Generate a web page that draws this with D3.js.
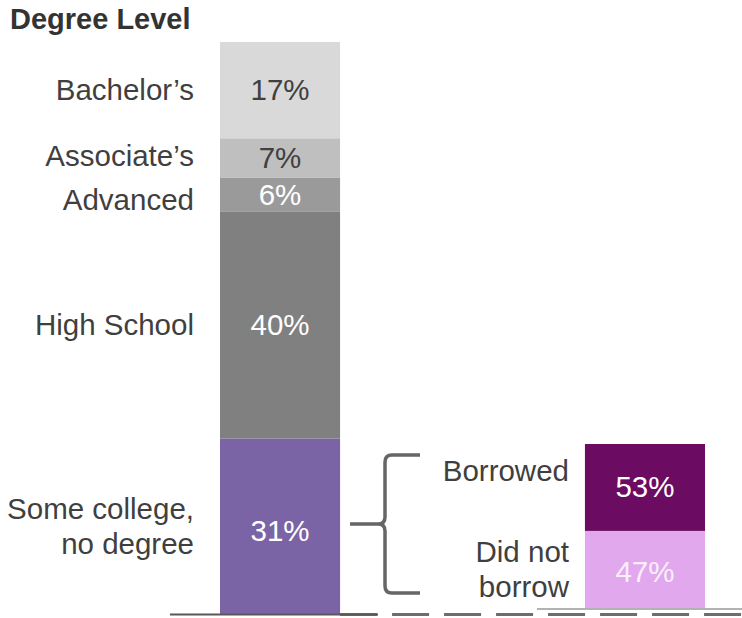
<!DOCTYPE html>
<html>
<head>
<meta charset="utf-8">
<script src="https://cdn.jsdelivr.net/npm/d3@7"></script>
<style>
  body { margin: 0; background: #fff; }
  svg { display: block; font-family: "Liberation Sans", Arial, sans-serif; }
</style>
</head>
<body>
<svg id="chart"></svg>
<script>
// degree level shares, stacked from the bottom up
const degreeLevels = ["Some college,\nno degree", "High School", "Advanced", "Associate’s", "Bachelor’s"];
const degreeShares = [31, 40, 6, 7, 17];
const degreeColors = ["#7b64a6", "#808080", "#9a9a9a", "#bfbfbf", "#d9d9d9"];

// split of the "some college" group
const borrowGroups = ["Did not\nborrow", "Borrowed"];
const borrowShares = [47, 53];
const borrowColors = ["#e1a8ee", "#6b0b62"];

const width = 742, height = 618;
const fontSize = 29.5, lineH = 35;

const svg = d3.select("#chart").attr("width", width).attr("height", height);

// x positions for the two bars
const x = d3.scaleBand().domain(["degree", "borrow"]).range([220, 705]).paddingInner(0.671);
const yMain = d3.scaleLinear().domain([0, d3.sum(degreeShares)]).range([614, 42]);
const ySub = d3.scaleLinear().domain([0, d3.sum(borrowShares)]).range([608, 444]);

function stackOf(values) {
  const ends = d3.cumsum(values);
  return values.map((v, i) => ({ v, i, y0: ends[i] - v, y1: ends[i] }));
}

// small nudges so labels don't collide
const labelNudge = { "Associate’s": -2, "Advanced": 5, "Borrowed": -16 };
const valueNudge = { "Some college,\nno degree": 5, "Borrowed": 0, "Did not\nborrow": 3 };

function drawBar(key, names, values, colors, y, valueFill, labelRight) {
  const segs = stackOf(values);
  const g = svg.append("g");

  g.selectAll("rect")
    .data(segs)
    .join("rect")
    .attr("x", x(key))
    .attr("width", x.bandwidth())
    .attr("y", d => y(d.y1))
    .attr("height", d => y(d.y0) - y(d.y1))
    .attr("fill", d => colors[d.i]);

  // percentages inside
  g.selectAll("text.val")
    .data(segs)
    .join("text")
    .attr("class", "val")
    .attr("x", x(key) + x.bandwidth() / 2)
    .attr("y", d => (y(d.y0) + y(d.y1)) / 2 + 10 + (valueNudge[names[d.i]] || 0))
    .attr("text-anchor", "middle")
    .attr("font-size", fontSize)
    .attr("fill", d => valueFill[d.i])
    .text(d => d.v + "%");

  // category labels to the left
  g.selectAll("text.lab")
    .data(segs)
    .join("text")
    .attr("class", "lab")
    .attr("text-anchor", "end")
    .attr("font-size", fontSize)
    .attr("fill", "#3f3f3f")
    .each(function(d) {
      const lines = names[d.i].split("\n");
      const mid = (y(d.y0) + y(d.y1)) / 2 + (labelNudge[names[d.i]] || 0);
      const first = mid + 10 - (lines.length - 1) * lineH / 2;
      d3.select(this).selectAll("tspan")
        .data(lines)
        .join("tspan")
        .attr("x", labelRight)
        .attr("y", (_, j) => first + j * lineH)
        .text(t => t);
    });
}

drawBar("degree", degreeLevels, degreeShares, degreeColors, yMain,
  ["#fff", "#fff", "#fff", "#404040", "#404040"], 194);
drawBar("borrow", borrowGroups, borrowShares, borrowColors, ySub,
  ["#fbeefd", "#fff"], 569);

// title
svg.append("text")
  .attr("x", 10)
  .attr("y", 29)
  .attr("font-size", 29)
  .attr("font-weight", "bold")
  .attr("fill", "#333")
  .text("Degree Level");

// brace linking the purple segment to the split bar
const bTop = ySub(100) + 11, bBot = ySub(0) - 15, bMid = (bTop + bBot) / 2;
const bx = 385, r = 7;
svg.append("path")
  .attr("d", `M420,${bTop} H${bx + r} Q${bx},${bTop} ${bx},${bTop + r}
    V${bMid - r} Q${bx},${bMid} ${bx - r},${bMid} H350
    M${bx - r},${bMid} Q${bx},${bMid} ${bx},${bMid + r}
    V${bBot - r} Q${bx},${bBot} ${bx + r},${bBot} H420`)
  .attr("fill", "none")
  .attr("stroke", "#666")
  .attr("stroke-width", 3.5);

// baselines
svg.append("line")
  .attr("x1", 537).attr("x2", width)
  .attr("y1", 609).attr("y2", 609)
  .attr("stroke", "#999").attr("stroke-width", 1.5);
svg.append("line")
  .attr("x1", x("degree") + x.bandwidth()).attr("x2", width)
  .attr("y1", 614.5).attr("y2", 614.5)
  .attr("stroke", "#6d6d6d").attr("stroke-width", 3)
  .attr("stroke-dasharray", "37,15");
svg.append("line")
  .attr("x1", 170).attr("x2", 378)
  .attr("y1", 614.5).attr("y2", 614.5)
  .attr("stroke", "#595959").attr("stroke-width", 2);
</script>
</body>
</html>
